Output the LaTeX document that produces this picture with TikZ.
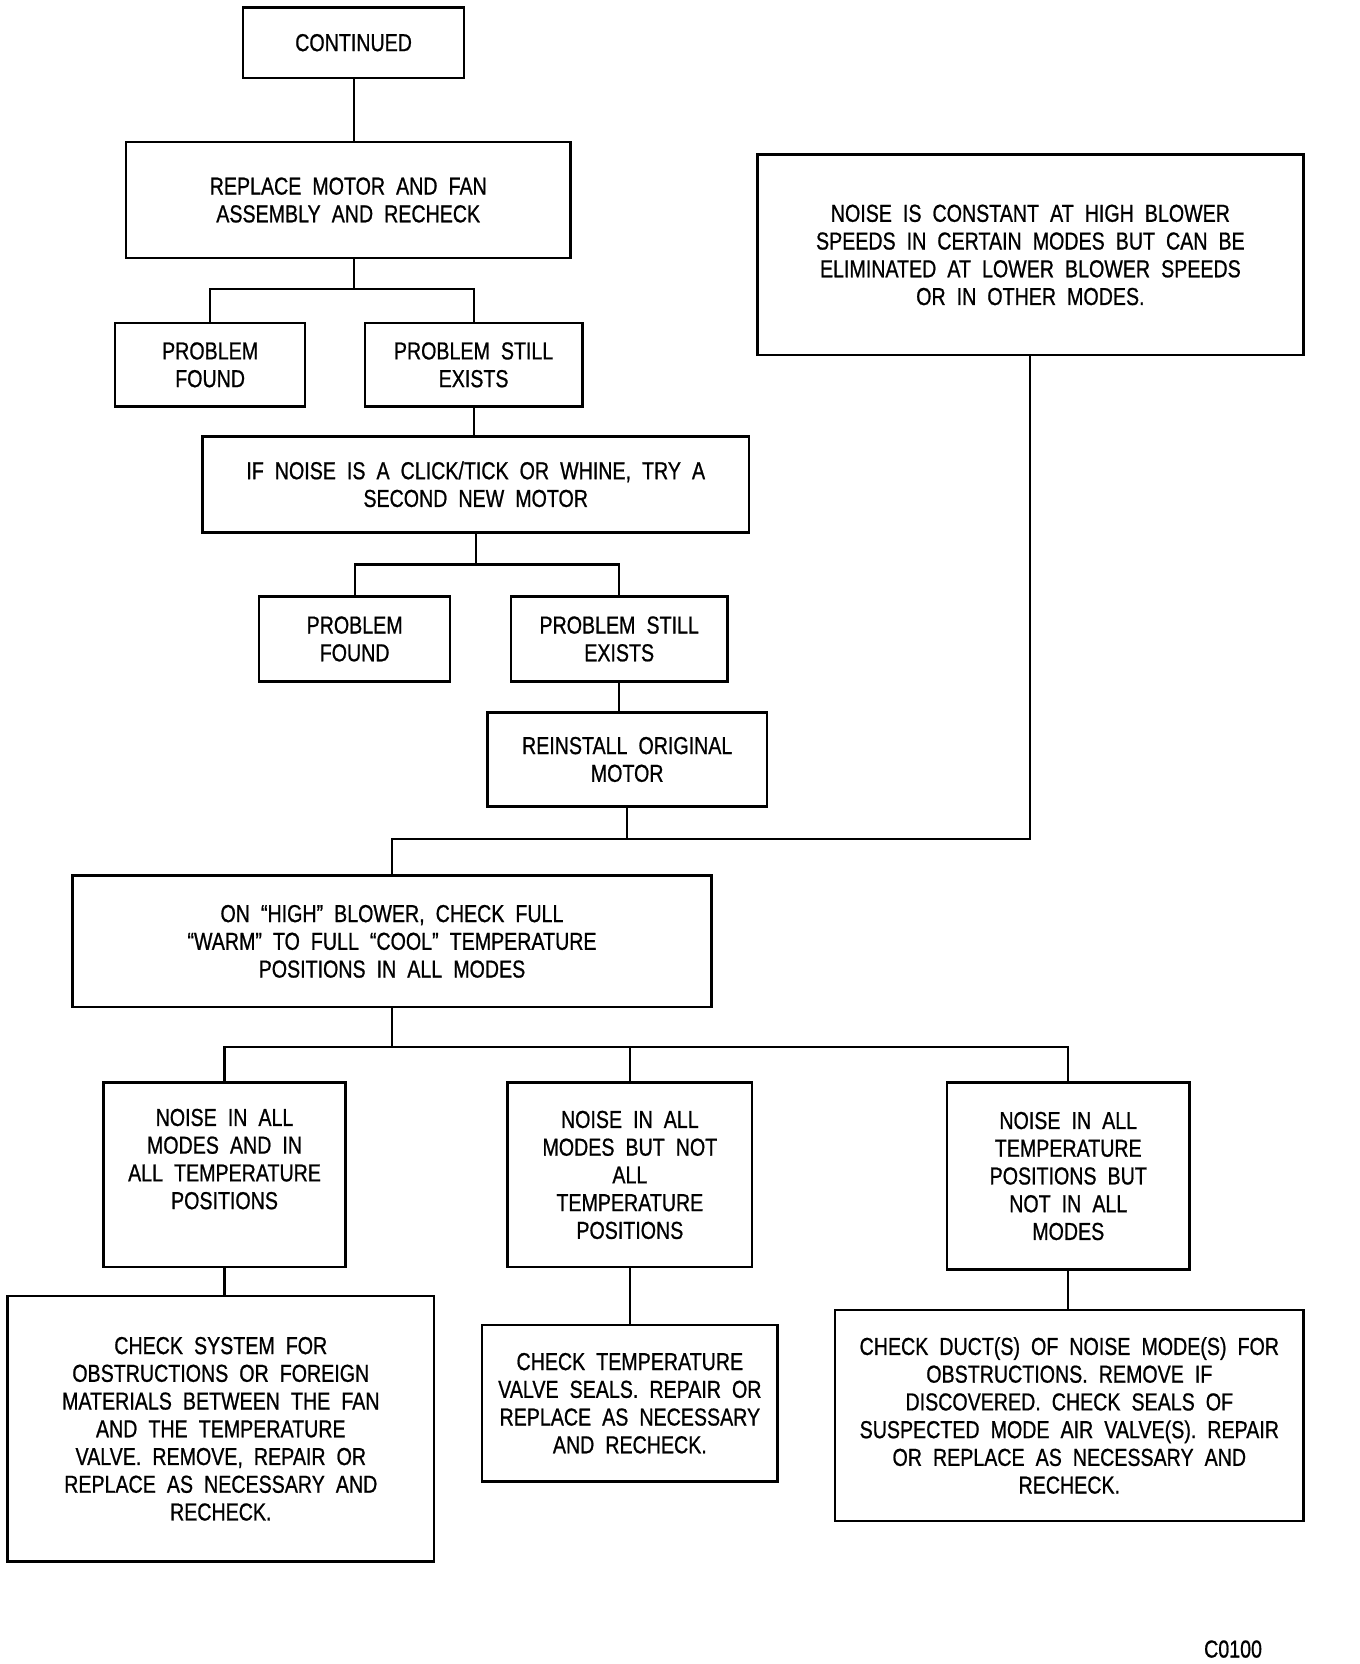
\documentclass[tikz,border=0pt]{standalone}
\usepackage{fontspec}
\setmainfont{Liberation Sans}[FakeStretch=0.8,FakeBold=0.8]
\usetikzlibrary{
    positioning,           % Relative positioning
    calc                   % Coordinate calculations
}
\newcommand{\boxfont}{\fontsize{11.5}{13}\selectfont\spaceskip=0.45em\relax}
\tikzset{
    box/.style={draw,line width=1.2pt,align=center,inner sep=0pt,font=\boxfont},
    link/.style={line width=1pt},
}

\begin{document}
\begin{tikzpicture}[x=0.5pt,y=-0.5pt]
    \useasboundingbox (0,0) rectangle (1275,1560);
    % upper column
    \node[box,minimum width=103.5pt,minimum height=33pt] (cont) at (331.5,40) {CONTINUED};
    \node[box,minimum width=208.5pt,minimum height=54.5pt] (replace) at (326.5,187.5) {REPLACE MOTOR AND FAN\\ASSEMBLY AND RECHECK};
    \node[box,minimum width=89pt,minimum height=39pt] (found1) at (197,342) {PROBLEM\\FOUND};
    \node[box,minimum width=102pt,minimum height=39pt] (still1) at (444,342) {PROBLEM STILL\\EXISTS};
    \node[box,minimum width=256pt,minimum height=45pt] (second) at (446,454) {IF NOISE IS A CLICK/TICK OR WHINE, TRY A\\SECOND NEW MOTOR};
    \node[box,minimum width=89.5pt,minimum height=40pt] (found2) at (332.5,599) {PROBLEM\\FOUND};
    \node[box,minimum width=101.5pt,minimum height=40pt] (still2) at (580.5,599) {PROBLEM STILL\\EXISTS};
    \node[box,minimum width=131pt,minimum height=44pt] (reinstall) at (588,712) {REINSTALL ORIGINAL\\MOTOR};
    \node[box,minimum width=256pt,minimum height=94pt] (constant) at (966,239) {NOISE IS CONSTANT AT HIGH BLOWER\\SPEEDS IN CERTAIN MODES BUT CAN BE\\ELIMINATED AT LOWER BLOWER SPEEDS\\OR IN OTHER MODES.};
    \node[box,minimum width=299.5pt,minimum height=61.5pt] (high) at (367.5,882.5) {ON “HIGH” BLOWER, CHECK FULL\\“WARM” TO FULL “COOL” TEMPERATURE\\POSITIONS IN ALL MODES};
    % three cases
    \node[box,minimum width=113.5pt,minimum height=86.5pt,text depth=15pt] (allmodes) at (210.5,1101.5) {NOISE IN ALL\\MODES AND IN\\ALL TEMPERATURE\\POSITIONS};
    \node[box,minimum width=114.5pt,minimum height=86.5pt] (sometemp) at (590.5,1101.5) {NOISE IN ALL\\MODES BUT NOT\\ALL\\TEMPERATURE\\POSITIONS};
    \node[box,minimum width=113.5pt,minimum height=87.5pt] (somemodes) at (1001.5,1102.5) {NOISE IN ALL\\TEMPERATURE\\POSITIONS BUT\\NOT IN ALL\\MODES};
    \node[box,minimum width=200pt,minimum height=124.5pt] (obstr) at (207,1339.5) {CHECK SYSTEM FOR\\OBSTRUCTIONS OR FOREIGN\\MATERIALS BETWEEN THE FAN\\AND THE TEMPERATURE\\VALVE. REMOVE, REPAIR OR\\REPLACE AS NECESSARY AND\\RECHECK.};
    \node[box,minimum width=138.5pt,minimum height=73.5pt] (seals) at (590.5,1315.5) {CHECK TEMPERATURE\\VALVE SEALS. REPAIR OR\\REPLACE AS NECESSARY\\AND RECHECK.};
    \node[box,minimum width=219.5pt,minimum height=99pt] (ducts) at (1002.5,1327) {CHECK DUCT(S) OF NOISE MODE(S) FOR\\OBSTRUCTIONS. REMOVE IF\\DISCOVERED. CHECK SEALS OF\\SUSPECTED MODE AIR VALVE(S). REPAIR\\OR REPLACE AS NECESSARY AND\\RECHECK.};
    \node[font=\boxfont] (code) at (1156,1546) {C0100};
    % connectors
    \draw[link] (cont.south) -- (cont.south |- replace.north);
    \draw[link] (cont.south |- replace.south) -- ++(0,28) coordinate (b1);
    \draw[link] (found1.north) |- (b1) -| (still1.north);
    \draw[link] (still1.south) -- (still1.south |- second.north);
    \draw[link] (second.south) -- ++(0,29) coordinate (b2);
    \draw[link] (found2.north) |- (b2) -| (still2.north);
    \draw[link] (still2.south) -- (still2.south |- reinstall.north);
    \draw[link] (reinstall.south) -- ++(0,29) coordinate (b3);
    \draw[link] (high.north) |- (b3) -| (constant.south);
    \draw[link] (high.south) -- ++(0,36) coordinate (b4);
    \draw[link] (allmodes.north) |- (b4) -| (somemodes.north);
    \draw[link] (sometemp.north) -- (sometemp.north |- b4);
    \draw[link] (allmodes.south) -- (allmodes.south |- obstr.north);
    \draw[link] (sometemp.south) -- (sometemp.south |- seals.north);
    \draw[link] (somemodes.south) -- (somemodes.south |- ducts.north);
\end{tikzpicture}
\end{document}
